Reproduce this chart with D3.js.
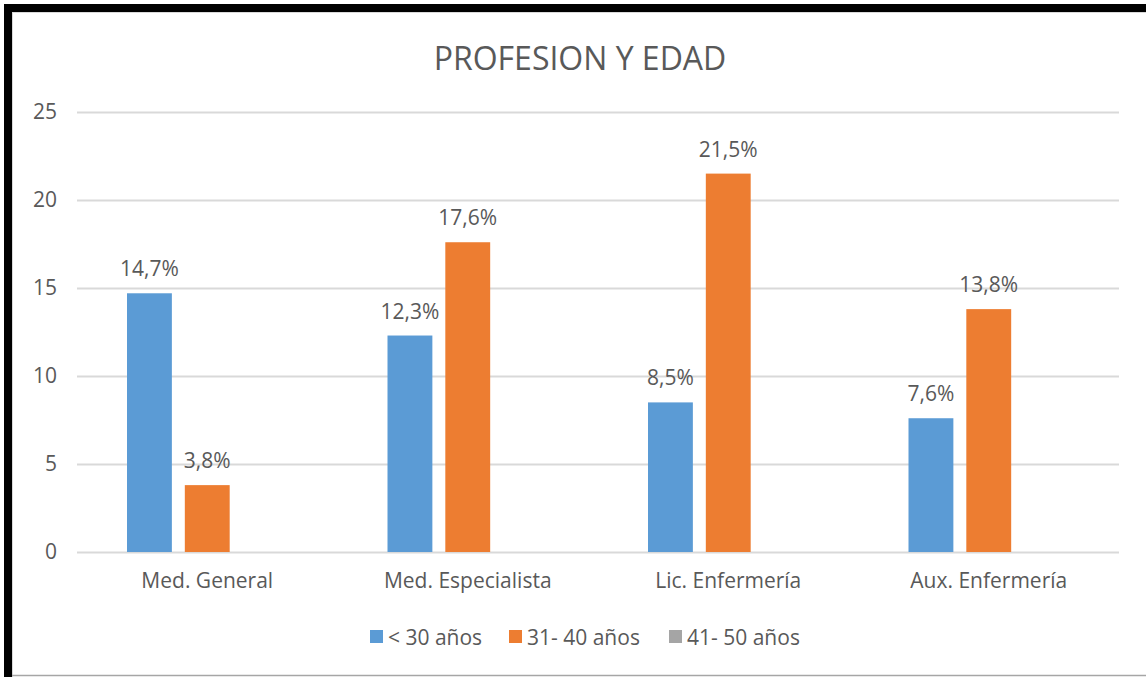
<!DOCTYPE html>
<html>
<head>
<meta charset="utf-8">
<script src="https://cdn.jsdelivr.net/npm/d3@7"></script>
<style>
  html, body { margin: 0; padding: 0; background: #fff; }
  svg { display: block; font-family: "Open Sans", sans-serif; }
</style>
</head>
<body>
<svg id="chart" width="1146" height="677"></svg>
<script>
const categories = ["Med. General", "Med. Especialista", "Lic. Enfermería", "Aux. Enfermería"];
const seriesNames = ["< 30 años", "31- 40 años", "41- 50 años"];
const seriesColors = ["#5b9bd5", "#ed7d31", "#a5a5a5"];
const under30 = [14.7, 12.3, 8.5, 7.6];
const from31to40 = [3.8, 17.6, 21.5, 13.8];
const from41to50 = [null, null, null, null];
const yTicks = [0, 5, 10, 15, 20, 25];

const seriesValues = [under30, from31to40, from41to50];

const svg = d3.select("#chart");
const W = 1146, H = 677;
const plot = { left: 77, right: 1119, top: 112, bottom: 552 };
const textColor = "#595959";

// frame
svg.append("rect").attr("x", 0).attr("y", 0).attr("width", W).attr("height", H).attr("fill", "#fff");
svg.append("rect").attr("x", 4).attr("y", 4).attr("width", W - 4).attr("height", 8).attr("fill", "#000");
svg.append("rect").attr("x", 4).attr("y", 4).attr("width", 8).attr("height", H - 4).attr("fill", "#000");
svg.append("line").attr("x1", 12).attr("x2", W).attr("y1", 12.5).attr("y2", 12.5).attr("stroke", "#d9d9d9").attr("stroke-width", 1);
svg.append("line").attr("x1", 12.5).attr("x2", 12.5).attr("y1", 12).attr("y2", H).attr("stroke", "#d9d9d9").attr("stroke-width", 1);
svg.append("line").attr("x1", 12).attr("x2", W).attr("y1", 675.5).attr("y2", 675.5).attr("stroke", "#a6a6a6").attr("stroke-width", 1.5);

// title
svg.append("text")
  .attr("x", 580).attr("y", 57)
  .attr("text-anchor", "middle").attr("dominant-baseline", "central")
  .attr("fill", textColor).attr("font-size", 32)
  .text("PROFESION Y EDAD");

const y = d3.scaleLinear().domain([0, 25]).range([plot.bottom, plot.top]);
const x0 = d3.scaleBand().domain(categories).range([plot.left, plot.right]).padding(0);
const groupInset = 50;
const x1 = d3.scaleBand().domain(seriesNames)
  .range([groupInset, x0.bandwidth() - groupInset]).paddingInner(0.224).paddingOuter(0);

// gridlines
const yAxis = d3.axisLeft(y).tickValues(yTicks).tickSize(-(plot.right - plot.left)).tickPadding(20);
const gAxis = svg.append("g").attr("transform", `translate(${plot.left},0)`).call(yAxis);
gAxis.select(".domain").remove();
gAxis.selectAll(".tick line").attr("stroke", "#d9d9d9").attr("stroke-width", 2);
gAxis.selectAll(".tick text").attr("fill", textColor).attr("font-size", 21)
  .attr("font-family", "'Open Sans', sans-serif");

// category axis labels
const xAxis = d3.axisBottom(x0).tickSize(0).tickPadding(21);
const gx = svg.append("g").attr("transform", `translate(0,${plot.bottom})`).call(xAxis);
gx.select(".domain").remove();
gx.selectAll(".tick text").attr("fill", textColor).attr("font-size", 21)
  .attr("font-family", "'Open Sans', sans-serif");

// bars
const rows = [];
categories.forEach((c, i) => {
  seriesNames.forEach((s, j) => {
    const v = seriesValues[j][i];
    if (v != null) rows.push({ c, s, v, color: seriesColors[j] });
  });
});

const bars = svg.append("g");
bars.selectAll("rect").data(rows).join("rect")
  .attr("x", d => x0(d.c) + x1(d.s))
  .attr("y", d => y(d.v))
  .attr("width", x1.bandwidth())
  .attr("height", d => y(0) - y(d.v))
  .attr("fill", d => d.color);

// value labels
bars.selectAll("text").data(rows).join("text")
  .attr("x", d => x0(d.c) + x1(d.s) + x1.bandwidth() / 2)
  .attr("y", d => y(d.v) - 25)
  .attr("text-anchor", "middle").attr("dominant-baseline", "central")
  .attr("fill", textColor).attr("font-size", 21)
  .text(d => d.v.toFixed(1).replace(".", ",") + "%");

// legend
const legendX = [370, 509, 669];
const legend = svg.append("g");
seriesNames.forEach((s, j) => {
  legend.append("rect").attr("x", legendX[j]).attr("y", 630).attr("width", 13).attr("height", 13)
    .attr("fill", seriesColors[j]);
  legend.append("text").attr("x", legendX[j] + 18).attr("y", 636.5)
    .attr("dominant-baseline", "central").attr("fill", textColor).attr("font-size", 21)
    .text(s);
});
</script>
</body>
</html>
